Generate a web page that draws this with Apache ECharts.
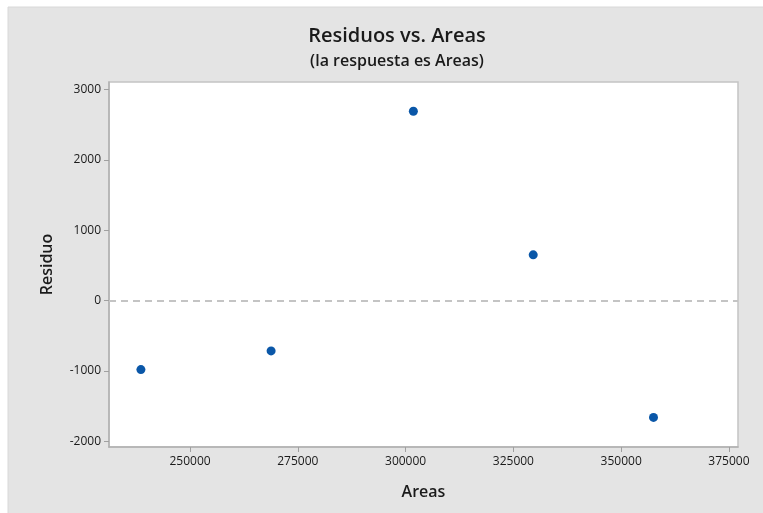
<!DOCTYPE html>
<html>
<head>
<meta charset="utf-8">
<script src="https://cdn.jsdelivr.net/npm/echarts@6/dist/echarts.min.js"></script>
<style>
  html, body { margin: 0; padding: 0; background: #fff; }
  #chart { width: 763px; height: 513px; }
</style>
</head>
<body>
<div id="chart"></div>
<script>
// fitted Areas vs residuals
const areas = [238600, 268800, 301800, 329600, 357500];
const residuals = [-980, -715, 2690, 650, -1660];
const xTicks = [250000, 275000, 300000, 325000, 350000, 375000];
const yTicks = [-2000, -1000, 0, 1000, 2000, 3000];

const chart = echarts.init(document.getElementById('chart'));
const font = '"Open Sans", "Noto Sans", sans-serif';

const option = {
  backgroundColor: '#fff',
  animation: false,
  graphic: [
    {
      type: 'rect',
      z: -10,
      shape: { x: 8, y: 7, width: 763, height: 513 },
      style: { fill: '#e4e4e4', stroke: '#d8d8d8', lineWidth: 1 }
    }
  ],
  title: [
    {
      text: 'Residuos vs. Areas',
      left: 392, top: 21, textAlign: 'center',
      textStyle: { fontFamily: font, fontSize: 20, fontWeight: 600, color: '#1a1a1a' }
    },
    {
      text: '(la respuesta es Areas)',
      left: 392, top: 48, textAlign: 'center',
      textStyle: { fontFamily: font, fontSize: 16, fontWeight: 600, color: '#1a1a1a' }
    }
  ],
  grid: {
    left: 109, top: 82, right: 25, bottom: 66,
    show: true, backgroundColor: '#fff', borderColor: '#c4c4c4', borderWidth: 1.5
  },
  xAxis: {
    type: 'value',
    min: 231200, max: 377100,
    name: 'Areas', nameLocation: 'middle', nameGap: 37,
    nameTextStyle: { fontFamily: font, fontSize: 16, fontWeight: 600, color: '#1a1a1a' },
    axisLine: { show: true, onZero: false, lineStyle: { color: '#b0b0b0', width: 1.5 } },
    axisTick: { show: true, customValues: xTicks, length: 5, lineStyle: { color: '#a0a0a0' } },
    axisLabel: {
      customValues: xTicks, showMinLabel: true, showMaxLabel: true,
      formatter: v => String(v),
      fontFamily: font, fontSize: 12, color: '#1a1a1a', margin: 9
    },
    splitLine: { show: false }
  },
  yAxis: {
    type: 'value',
    min: -2080, max: 3105,
    name: 'Residuo', nameLocation: 'middle', nameGap: 54,
    nameTextStyle: { fontFamily: font, fontSize: 16, fontWeight: 600, color: '#1a1a1a' },
    axisLine: { show: true, onZero: false, lineStyle: { color: '#b0b0b0', width: 1.5 } },
    axisTick: { show: true, customValues: yTicks, length: 5, lineStyle: { color: '#a0a0a0' } },
    axisLabel: {
      customValues: yTicks,
      formatter: v => String(v),
      fontFamily: font, fontSize: 12, color: '#1a1a1a', margin: 8
    },
    splitLine: { show: false }
  },
  series: [
    {
      type: 'scatter',
      data: areas.map((a, i) => [a, residuals[i]]),
      symbol: 'circle',
      symbolSize: 9,
      itemStyle: { color: '#0a57a8', opacity: 1 },
      markLine: {
        silent: true,
        symbol: 'none',
        label: { show: false },
        lineStyle: { color: '#c4c4c4', type: [7, 5], width: 2 },
        data: [{ yAxis: 0 }]
      }
    }
  ]
};

chart.setOption(option);
</script>
</body>
</html>
